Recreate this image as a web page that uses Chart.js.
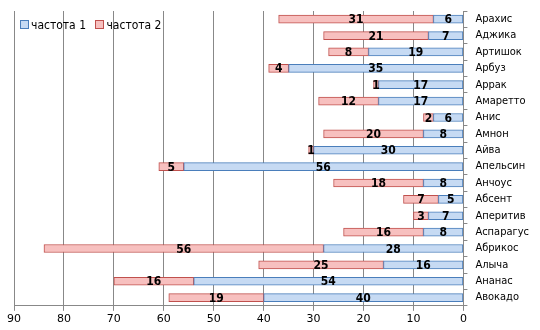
<!DOCTYPE html>
<html>
<head>
<meta charset="utf-8">
<script src="https://cdn.jsdelivr.net/npm/chart.js@4"></script>
<style>
  body { margin: 0; background: #fff; }
  #wrap { position: relative; width: 540px; height: 330px; }
  #legend { position: absolute; left: 20px; top: 18px; font: 12px "DejaVu Sans Condensed", sans-serif; color: #000; }
  #legend span.box { display: inline-block; width: 7px; height: 7px; margin-right: 2px; vertical-align: 0px; }
  #legend span.item { margin-right: 6px; }
</style>
</head>
<body>
<div id="wrap">
  <canvas id="myChart" width="540" height="330"></canvas>
  <div id="legend">
    <span class="item"><span class="box" style="background:#c6daf3;border:1px solid #4a7ebb"></span>частота 1</span>
    <span class="item"><span class="box" style="background:#f7c0bf;border:1px solid #c0504d"></span>частота 2</span>
  </div>
</div>
<script>
let categories = ["Арахис", "Аджика", "Артишок", "Арбуз", "Аррак", "Амаретто", "Анис", "Амнон", "Айва",
    "Апельсин", "Анчоус", "Абсент", "Аперитив", "Аспарагус", "Абрикос", "Алыча", "Ананас", "Авокадо"];
let freq1 = [6, 7, 19, 35, 17, 17, 6, 8, 30, 56, 8, 5, 7, 8, 28, 16, 54, 40];
let freq2 = [31, 21, 8, 4, 1, 12, 2, 20, 1, 5, 18, 7, 3, 16, 56, 25, 16, 19];
let xTicks = [0, 10, 20, 30, 40, 50, 60, 70, 80, 90];

// numbers in the middle of every segment
let barLabels = {
    id: 'barLabels',
    afterDatasetsDraw(chart) {
        let c = chart.ctx;
        c.save();
        c.font = 'bold 12px "DejaVu Sans Condensed", sans-serif';
        c.fillStyle = '#000';
        c.textAlign = 'center';
        c.textBaseline = 'middle';
        chart.data.datasets.forEach((ds, i) => {
            chart.getDatasetMeta(i).data.forEach((bar, j) => {
                c.fillText(ds.data[j], (bar.x + bar.base) / 2, bar.y + 1);
            });
        });
        c.restore();
    }
};

let ctx = document.getElementById('myChart');
let myChart = new Chart(ctx, {
    type: 'bar',
    data: {
        labels: categories,
        datasets: [{
            label: 'частота 1',
            data: freq1,
            backgroundColor: '#c6daf3',
            borderColor: '#4a7ebb',
            borderWidth: 1,
            borderSkipped: false,
            barThickness: 8
        }, {
            label: 'частота 2',
            data: freq2,
            backgroundColor: '#f7c0bf',
            borderColor: '#c0504d',
            borderWidth: 1,
            borderSkipped: false,
            barThickness: 8
        }]
    },
    options: {
        indexAxis: 'y',
        responsive: false,
        animation: false,
        layout: { padding: { left: 14, right: 3, top: 11, bottom: 2 } },
        plugins: {
            legend: { display: false },
            tooltip: { enabled: false }
        },
        scales: {
            x: {
                stacked: true,
                reverse: true,
                min: 0,
                max: 90,
                afterBuildTicks: axis => { axis.ticks = xTicks.map(v => ({ value: v })); },
                grid: { color: '#888', tickLength: 5 },
                border: { color: '#888' },
                ticks: { color: '#000', font: { family: 'DejaVu Sans', size: 11 }, padding: 2 }
            },
            y: {
                stacked: true,
                position: 'right',
                afterFit: s => { s.paddingTop = 0; s.paddingBottom = 0; },
                grid: { offset: true, drawOnChartArea: false, color: '#888', tickLength: 4 },
                border: { color: '#888' },
                ticks: { color: '#000', autoSkip: false, font: { family: 'DejaVu Sans Condensed', size: 11 }, padding: 8 }
            }
        }
    },
    plugins: [barLabels]
});
</script>
</body>
</html>
